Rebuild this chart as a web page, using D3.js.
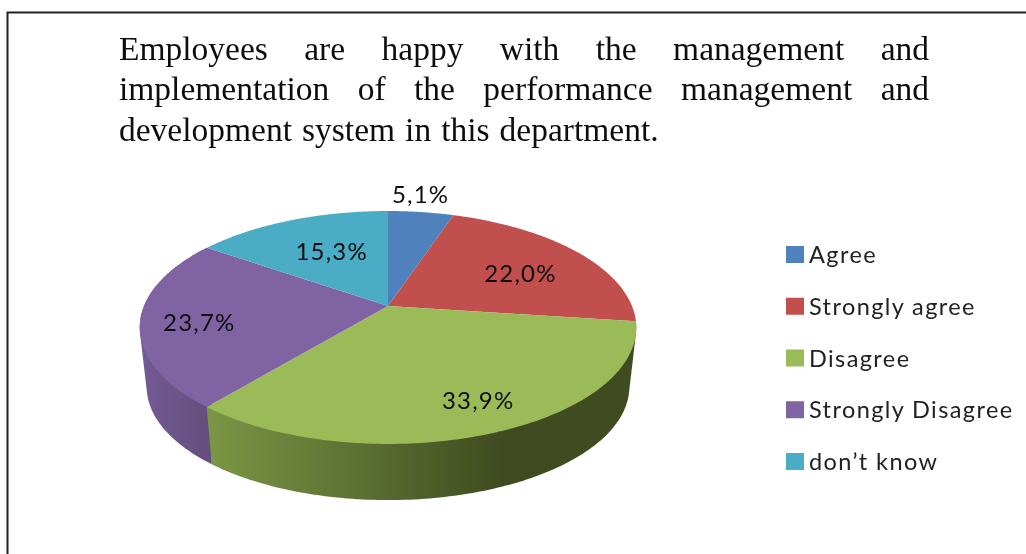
<!DOCTYPE html>
<html><head><meta charset="utf-8">
<script src="https://cdn.jsdelivr.net/npm/d3@7/dist/d3.min.js"></script>
<style>html,body{margin:0;padding:0;background:#fff;overflow:hidden}svg{display:block}</style>
</head><body><svg id="c" width="1026" height="554"></svg>
<script>
const categories = ["Agree","Strongly agree","Disagree","Strongly Disagree","don\u2019t know"];
const values = [5.1,22.0,33.9,23.7,15.3];
const labels = ["5,1%","22,0%","33,9%","23,7%","15,3%"];
const colors = ["#4f81bd","#c0504d","#9bbb59","#8064a2","#4bacc6"];
const titleLines = [
  ["Employees","are","happy","with","the","management","and"],
  ["implementation","of","the","performance","management","and"],
  ["development","system","in","this","department."]
];

const svg = d3.select("#c");
const defs = svg.append("defs");
const blur = defs.append("filter").attr("id","soft").attr("x","-5%").attr("y","-5%").attr("width","110%").attr("height","110%");
blur.append("feGaussianBlur").attr("stdDeviation",0.55);
const softEdge = defs.append("filter").attr("id","edge").attr("x","-5%").attr("y","-5%").attr("width","110%").attr("height","110%");
softEdge.append("feGaussianBlur").attr("stdDeviation",0.7);

const gGreen = defs.append("linearGradient").attr("id","sideGreen").attr("gradientUnits","userSpaceOnUse")
  .attr("x1",208).attr("x2",500).attr("y1",0).attr("y2",0);
gGreen.append("stop").attr("offset",0).attr("stop-color","#7b9645");
gGreen.append("stop").attr("offset",1).attr("stop-color","#3f4c20");
const gPurple = defs.append("linearGradient").attr("id","sidePurple").attr("gradientUnits","userSpaceOnUse")
  .attr("x1",146).attr("x2",212).attr("y1",0).attr("y2",0);
gPurple.append("stop").attr("offset",0).attr("stop-color","#725a92");
gPurple.append("stop").attr("offset",1).attr("stop-color","#644e7c");

// frame
svg.append("path").attr("d","M7.5,554V12.5H1026").attr("fill","none").attr("stroke","#222").attr("stroke-width",2);

// perspective pie
const cx=388, cy=306, rx=244, ry=112.5, p=0.1845, depthY=60, shrink=0.972;
function project(theta,r,bottom){
  const u=r*Math.sin(theta), v=-r*Math.cos(theta), k=1/(1-p*v);
  const s=bottom?shrink:1;
  return [cx+rx*u*k*s, cy+ry*v*k*s+(bottom?depthY:0)];
}
const arcs = d3.pie().sort(null)(values);
const line = d3.line();
function arcPts(a0,a1,bottom){
  return d3.range(0,121).map(i=>project(a0+(a1-a0)*i/120,1,bottom));
}
const pieG = svg.append("g").attr("filter","url(#edge)");
// sides: only the slices that turn towards the viewer
const sides = [{i:2,fill:"url(#sideGreen)"},{i:3,fill:"url(#sidePurple)"}];
pieG.selectAll("path.side").data(sides.slice().reverse()).join("path").attr("class","side")
  .attr("fill",d=>d.fill)
  .attr("d",d=>{
    const a=arcs[d.i];
    return line(d3.polygonHull(arcPts(a.startAngle,a.endAngle,false).concat(arcPts(a.startAngle,a.endAngle,true))))+"Z";
  });
pieG.selectAll("path.top").data(arcs).join("path").attr("class","top")
  .attr("fill",(d,i)=>colors[i])
  .attr("d",d=>line([project(0,0,false)].concat(arcPts(d.startAngle,d.endAngle,false)))+"Z");

// value labels
const labelNudge=[[10,-46],[6,4],[25,18],[-29,7],[10,5]];
const textG = svg.append("g").attr("filter","url(#soft)");
textG.selectAll("text.val").data(arcs).join("text").attr("class","val")
  .attr("text-anchor","middle").attr("font-family","Lato").attr("font-size",24).attr("letter-spacing",1.2).attr("fill","#111")
  .attr("x",(d,i)=>project((d.startAngle+d.endAngle)/2,0.65,false)[0]+labelNudge[i][0])
  .attr("y",(d,i)=>project((d.startAngle+d.endAngle)/2,0.65,false)[1]+labelNudge[i][1]+8)
  .text((d,i)=>labels[i]);

// legend
const legendY = d3.scalePoint().domain(categories).range([255,462]);
const leg = svg.append("g").attr("filter","url(#soft)");
leg.selectAll("rect").data(categories).join("rect")
  .attr("x",786).attr("width",18).attr("height",17).attr("y",d=>legendY(d)-9)
  .attr("fill",(d,i)=>colors[i]);
leg.selectAll("text").data(categories).join("text")
  .attr("x",809).attr("y",d=>legendY(d)+8).attr("font-family","Lato").attr("font-size",23.5)
  .attr("letter-spacing",1.4).attr("fill","#222").text(d=>d);

// title, justified word by word
const titleG = svg.append("g").attr("filter","url(#soft)");
const titleSize=33.5, left=119, right=929, baselines=[60,100,141];
titleLines.forEach((words,li)=>{
  const nodes = words.map(w=>titleG.append("text").attr("font-family","Liberation Serif")
    .attr("font-size",titleSize).attr("fill","#111").attr("y",baselines[li]).text(w));
  const widths = nodes.map(n=>n.node().getComputedTextLength());
  const gap = li<2 ? (right-left-d3.sum(widths))/(words.length-1) : 10;
  let x=left;
  nodes.forEach((n,i)=>{ n.attr("x",x); x+=widths[i]+gap; });
});
</script></body></html>
